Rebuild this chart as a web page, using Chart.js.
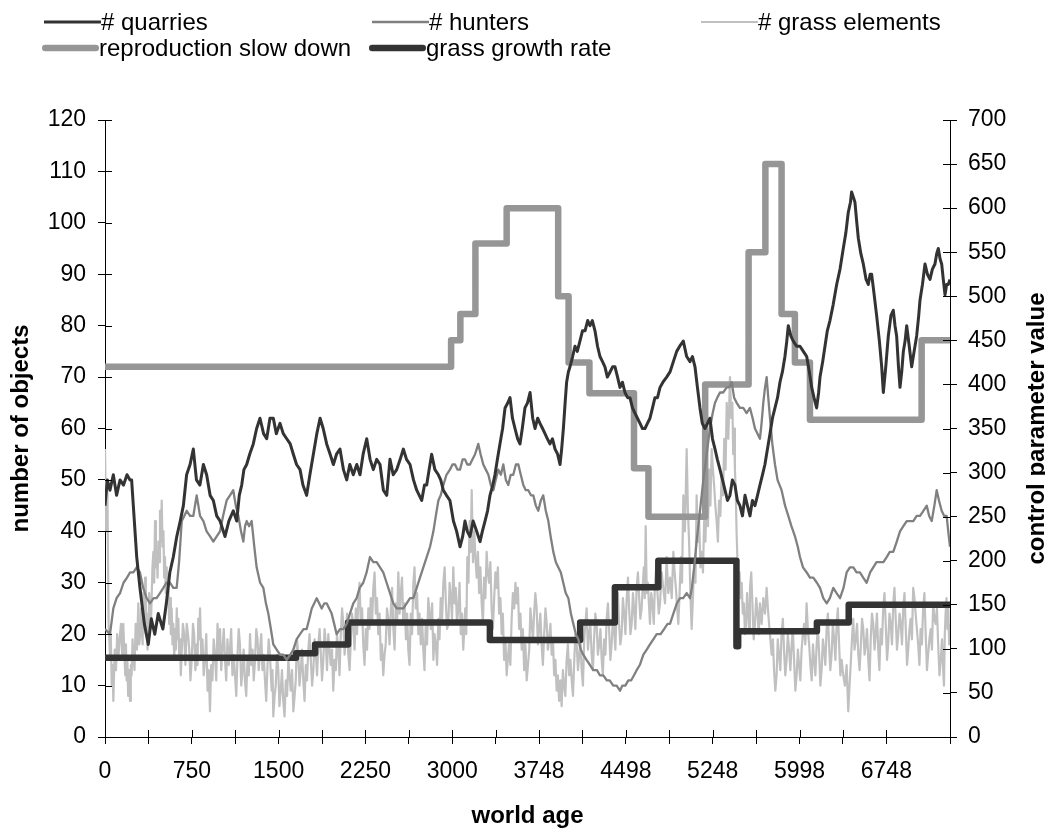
<!DOCTYPE html>
<html>
<head>
<meta charset="utf-8">
<script src="https://cdn.jsdelivr.net/npm/chart.js@4/dist/chart.umd.min.js"></script>
<style>
  html, body { margin: 0; padding: 0; background: #fff; }
  canvas { display: block; }
</style>
</head>
<body>
<canvas id="worldChart" width="1045" height="828"></canvas>
<script>
// --- Data (world age, value) ---
const xTickLabels = ['0', '750', '1500', '2250', '3000', '3748', '4498', '5248', '5998', '6748'];

const quarryPoints = [
  [0,45],[20,50],[43,48],[72,51],[100,47],[130,50],[160,49],[190,51],[216,50],[230,50],[274,35],[302,29],[340,22],[374,18],
  [400,23],[430,20],[460,24],[500,21],[530,26],[560,32],[590,35],[620,39],[650,42],[677,45],[705,51],[735,53],[763,56],
  [790,50],[820,49],[850,53],[878,51],[908,47],[936,46],[965,43],[994,42],[1037,39],[1070,42],[1108,44],[1138,42],[1160,47],
  [1181,49],[1200,52],[1224,53],[1250,55],[1281,57],[1310,60],[1339,62],[1370,59],[1397,58],[1425,62],[1454,62],[1480,59],
  [1512,61],[1540,59],[1570,58],[1600,57],[1627,55],[1655,53],[1685,52],[1710,49],[1742,47],[1770,51],[1800,55],[1830,59],
  [1858,62],[1885,60],[1915,57],[1945,55],[1973,53],[2000,55],[2030,56],[2060,52],[2088,50],[2115,53],[2145,51],[2175,53],
  [2203,51],[2230,55],[2261,58],[2290,54],[2318,52],[2347,54],[2376,53],[2405,48],[2434,47],[2462,54],[2490,51],[2520,52],
  [2550,54],[2577,56],[2605,54],[2635,53],[2665,50],[2693,48],[2715,47],[2736,46],[2760,49],[2779,49],[2800,52],[2822,55],
  [2850,52],[2880,51],[2900,50],[2923,48],[2950,47],[2980,46],[3010,42],[3038,40],[3067,37],[3090,39],[3110,42],[3130,40],
  [3153,39],[3180,42],[3211,40],[3240,38],[3260,40],[3283,42],[3305,44],[3326,47],[3350,49],[3369,51],[3390,54],[3412,57],
  [3435,60],[3456,64],[3480,65],[3499,66],[3520,62],[3542,60],[3565,58],[3585,57],[3605,60],[3628,64],[3650,65],[3672,67],
  [3695,62],[3715,60],[3738,62],[3758,61],[3780,60],[3801,59],[3822,58],[3844,57],[3866,58],[3888,56],[3910,55],[3931,53],
  [3945,56],[3960,60],[3975,65],[3988,69],[4003,71],[4017,72],[4040,74],[4060,76],[4080,75],[4103,77],[4125,79],[4147,79],
  [4170,81],[4190,80],[4210,81],[4233,79],[4255,76],[4276,74],[4298,73],[4319,72],[4340,70],[4363,71],[4385,72],[4406,72],
  [4428,70],[4449,68],[4470,69],[4492,67],[4515,66],[4535,66],[4557,64],[4578,63],[4600,62],[4622,61],[4643,60],[4665,60],
  [4686,61],[4708,62],[4730,64],[4751,66],[4773,66],[4795,68],[4820,69],[4852,70],[4881,71],[4910,73],[4939,75],[4965,76],
  [4996,77],[5025,74],[5054,73],[5075,74],[5097,72],[5118,68],[5140,64],[5160,61],[5183,60],[5205,61],[5226,62],[5248,58],
  [5270,56],[5290,54],[5313,52],[5335,50],[5356,48],[5378,46],[5399,47],[5420,50],[5442,49],[5463,46],[5485,45],[5507,43],
  [5529,47],[5550,45],[5572,43],[5593,46],[5615,45],[5637,47],[5658,49],[5680,51],[5701,53],[5723,56],[5745,59],[5766,62],
  [5788,64],[5810,66],[5831,69],[5852,71],[5874,74],[5890,77],[5903,80],[5925,78],[5946,77],[5975,76],[6004,76],[6033,75],
  [6062,74],[6085,71],[6105,68],[6125,66],[6148,64],[6165,67],[6177,70],[6200,73],[6220,76],[6240,79],[6263,81],[6290,84],
  [6321,88],[6350,91],[6378,95],[6400,98],[6421,102],[6440,104],[6450,106],[6465,105],[6479,104],[6495,100],[6508,97],
  [6530,94],[6551,92],[6575,89],[6594,88],[6610,90],[6623,90],[6645,86],[6666,82],[6690,77],[6710,72],[6724,67],[6745,72],
  [6767,78],[6790,82],[6810,83],[6825,80],[6839,78],[6855,72],[6868,68],[6883,71],[6897,75],[6912,77],[6926,80],[6948,76],
  [6969,72],[6990,75],[7012,78],[7030,82],[7041,85],[7062,88],[7084,92],[7105,90],[7127,89],[7148,91],[7170,92],[7185,94],
  [7199,95],[7214,93],[7228,92],[7242,89],[7257,86],[7271,88],[7285,88],[7300,89]
];

const hunterPoints = [
  [0,21],[43,20],[72,25],[100,27],[130,28],[160,30],[190,31],[216,32],[245,32],[274,33],[302,32],[330,29],[360,27],[389,26],
  [420,27],[446,27],[475,28],[504,29],[530,30],[562,30],[590,29],[619,29],[640,34],[663,42],[685,43],[706,44],[735,43],
  [763,43],[792,47],[821,43],[850,42],[878,40],[908,39],[936,38],[965,39],[994,40],[1020,43],[1051,46],[1080,47],[1108,48],
  [1130,45],[1152,43],[1175,40],[1195,38],[1210,41],[1224,42],[1245,41],[1267,42],[1290,37],[1310,33],[1340,30],[1368,29],
  [1390,26],[1411,24],[1433,21],[1454,18],[1483,17],[1512,16],[1540,16],[1570,15],[1600,16],[1627,17],[1655,19],[1685,20],
  [1715,21],[1742,21],[1765,23],[1786,25],[1808,26],[1829,27],[1850,26],[1872,25],[1895,26],[1915,26],[1937,25],[1958,24],
  [1980,22],[2001,20],[2030,21],[2059,21],[2088,22],[2116,24],[2145,26],[2174,27],[2200,29],[2231,30],[2260,32],[2289,35],
  [2318,34],[2347,34],[2376,33],[2404,32],[2433,30],[2462,28],[2491,26],[2520,25],[2549,25],[2578,25],[2606,26],[2635,27],
  [2664,27],[2693,29],[2721,31],[2750,33],[2779,35],[2808,37],[2837,40],[2858,43],[2880,46],[2900,47],[2923,49],[2950,51],
  [2980,52],[3002,53],[3024,53],[3045,52],[3067,52],[3090,54],[3110,54],[3130,53],[3153,53],[3175,54],[3197,55],[3211,56],
  [3225,57],[3245,55],[3268,53],[3290,52],[3312,51],[3333,49],[3355,48],[3375,50],[3398,52],[3420,51],[3441,53],[3463,50],
  [3484,49],[3505,51],[3527,51],[3550,53],[3571,53],[3592,51],[3614,49],[3635,48],[3657,48],[3680,47],[3700,47],[3722,45],
  [3743,44],[3765,46],[3786,47],[3808,44],[3830,42],[3850,39],[3873,36],[3895,34],[3916,33],[3938,32],[3959,30],[3980,28],
  [4003,27],[4025,24],[4046,22],[4068,20],[4089,19],[4110,17],[4132,16],[4160,15],[4190,14],[4218,13],[4250,13],[4275,12],
  [4305,12],[4335,11],[4360,11],[4391,10],[4420,10],[4449,9],[4470,10],[4495,10],[4521,11],[4545,11],[4570,12],[4593,13],
  [4620,14],[4651,16],[4680,17],[4708,18],[4737,19],[4766,20],[4800,20],[4830,21],[4860,22],[4881,22],[4910,24],[4940,26],
  [4968,27],[4995,27],[5025,28],[5054,27],[5070,29],[5090,33],[5111,38],[5140,44],[5169,50],[5198,55],[5226,60],[5250,63],
  [5270,65],[5290,66],[5313,67],[5340,67],[5371,68],[5393,68],[5414,69],[5435,66],[5457,65],[5485,64],[5514,64],[5543,63],
  [5572,64],[5595,62],[5615,60],[5637,59],[5658,58],[5672,61],[5687,65],[5702,68],[5716,70],[5730,66],[5745,62],[5765,57],
  [5788,53],[5810,50],[5845,48],[5875,45],[5903,43],[5930,41],[5961,39],[5985,37],[6004,35],[6030,33],[6062,32],[6090,31],
  [6119,31],[6150,30],[6177,29],[6205,27],[6235,26],[6262,27],[6292,29],[6320,28],[6350,27],[6380,29],[6407,32],[6435,33],
  [6465,33],[6493,32],[6522,32],[6550,31],[6580,30],[6610,32],[6637,33],[6665,34],[6695,34],[6725,34],[6753,35],[6780,36],
  [6810,36],[6840,38],[6868,40],[6897,41],[6926,42],[6955,42],[6983,42],[7012,43],[7041,43],[7070,44],[7099,45],[7120,43],
  [7142,42],[7165,45],[7185,48],[7205,46],[7228,44],[7250,43],[7271,43],[7285,40],[7300,37]
];

const grassPoints = [
  [0,56],[10,40],[20,50],[31,22],[43,16],[50,20],[58,10],[65,14],[72,7],[84,17],[95,13],[105,20],[115,15],[126,19],[138,22],
  [148,16],[158,22],[166,17],[175,12],[181,18],[187,11],[193,15],[200,8],[208,13],[216,7],[223,14],[230,12],[238,19],[245,16],
  [255,13],[265,22],[276,17],[288,26],[296,18],[305,20],[311,25],[317,22],[325,18],[332,28],[339,23],[346,31],[353,20],
  [360,24],[367,17],[374,20],[382,28],[390,24],[396,21],[403,27],[410,33],[418,36],[425,30],[432,42],[440,33],[447,36],
  [454,31],[461,38],[468,34],[475,44],[482,38],[490,46],[497,37],[505,40],[511,31],[518,35],[525,28],[533,33],[540,26],
  [547,30],[554,22],[562,27],[569,20],[576,25],[583,18],[590,22],[598,15],[605,21],[612,17],[620,25],[627,19],[634,23],
  [641,15],[648,19],[655,12],[662,16],[673,22],[684,20],[695,14],[706,22],[717,20],[728,17],[738,11],[749,15],[760,22],
  [770,20],[781,13],[792,18],[799,14],[806,23],[813,19],[821,25],[831,16],[842,19],[853,12],[864,15],[875,20],[886,9],
  [896,13],[907,5],[917,14],[928,11],[939,19],[950,16],[961,11],[972,22],[983,16],[994,21],[1004,13],[1015,17],[1026,21],
  [1037,15],[1047,11],[1058,19],[1069,14],[1080,17],[1090,21],[1101,12],[1112,16],[1123,12],[1134,8],[1145,16],[1155,21],
  [1166,18],[1177,10],[1188,13],[1198,17],[1209,11],[1220,8],[1231,15],[1242,12],[1253,20],[1264,14],[1275,17],[1285,11],
  [1296,15],[1307,21],[1318,19],[1328,13],[1339,17],[1350,20],[1360,13],[1371,16],[1382,11],[1393,7],[1404,14],[1414,19],
  [1425,16],[1433,12],[1440,9],[1447,13],[1454,4],[1465,8],[1475,10],[1486,16],[1497,13],[1507,6],[1518,9],[1529,13],
  [1540,7],[1551,4],[1562,11],[1573,8],[1584,15],[1594,12],[1605,9],[1616,13],[1627,5],[1638,8],[1648,11],[1659,19],
  [1670,16],[1680,10],[1691,13],[1702,17],[1713,11],[1724,7],[1735,14],[1745,11],[1756,17],[1767,20],[1778,15],[1789,10],
  [1800,13],[1811,19],[1822,16],[1832,12],[1843,18],[1854,21],[1865,16],[1875,11],[1886,15],[1897,21],[1908,18],[1918,13],
  [1929,20],[1940,17],[1950,14],[1961,17],[1972,9],[1983,15],[1994,13],[2004,20],[2015,17],[2026,12],[2037,20],[2048,25],
  [2059,22],[2070,16],[2080,19],[2091,24],[2102,16],[2113,13],[2124,19],[2134,24],[2145,22],[2156,17],[2167,25],[2177,20],
  [2188,26],[2199,30],[2210,22],[2221,25],[2231,18],[2242,14],[2253,21],[2264,17],[2275,25],[2285,21],[2296,27],[2307,22],
  [2318,29],[2329,32],[2340,24],[2350,27],[2361,20],[2372,24],[2383,15],[2393,18],[2404,12],[2415,16],[2425,18],[2436,25],
  [2447,23],[2458,18],[2470,25],[2480,29],[2491,21],[2502,17],[2512,26],[2523,22],[2534,32],[2545,24],[2555,28],[2566,31],
  [2577,22],[2588,26],[2600,19],[2610,24],[2620,17],[2631,14],[2642,24],[2653,20],[2664,30],[2674,33],[2685,25],[2696,28],
  [2707,20],[2717,24],[2728,18],[2739,23],[2750,17],[2760,13],[2771,22],[2782,18],[2793,27],[2804,24],[2815,21],[2826,26],
  [2837,15],[2847,20],[2858,18],[2869,14],[2880,23],[2890,19],[2900,27],[2912,23],[2923,30],[2934,33],[2945,26],[2955,21],
  [2966,22],[2977,30],[2988,27],[2998,23],[3009,33],[3020,26],[3030,29],[3041,22],[3052,25],[3063,30],[3074,20],[3084,24],
  [3095,17],[3104,21],[3112,25],[3121,20],[3130,35],[3140,30],[3150,42],[3159,36],[3168,48],[3179,34],[3190,40],[3200,35],
  [3211,31],[3222,36],[3232,28],[3243,33],[3254,26],[3265,22],[3275,31],[3286,27],[3297,36],[3307,32],[3318,30],[3329,34],
  [3340,25],[3351,21],[3362,27],[3373,32],[3384,29],[3394,33],[3405,24],[3416,27],[3427,20],[3437,24],[3448,15],[3459,19],
  [3470,12],[3480,15],[3490,18],[3502,14],[3513,23],[3524,28],[3535,25],[3546,30],[3557,26],[3567,29],[3578,21],[3589,24],
  [3600,17],[3610,21],[3621,13],[3632,18],[3643,11],[3654,14],[3665,17],[3675,25],[3686,22],[3697,19],[3707,24],[3718,28],
  [3729,25],[3740,18],[3750,21],[3761,24],[3772,18],[3783,14],[3794,20],[3805,25],[3816,22],[3826,17],[3837,19],[3848,22],
  [3859,16],[3870,19],[3880,12],[3891,15],[3902,9],[3912,12],[3923,7],[3934,11],[3945,6],[3956,13],[3966,10],[3977,8],
  [3988,15],[3999,18],[4010,12],[4021,15],[4032,11],[4043,8],[4054,15],[4064,20],[4075,18],[4086,13],[4097,16],[4107,19],
  [4118,13],[4129,10],[4140,19],[4150,22],[4161,25],[4172,17],[4182,20],[4193,22],[4204,16],[4215,13],[4225,19],[4236,24],
  [4247,22],[4258,16],[4269,18],[4280,21],[4291,15],[4301,12],[4312,19],[4323,16],[4334,23],[4345,26],[4355,21],[4366,15],
  [4377,18],[4388,23],[4398,21],[4409,17],[4420,25],[4431,28],[4441,22],[4452,18],[4463,20],[4474,27],[4485,24],[4496,20],
  [4507,27],[4518,31],[4528,25],[4539,20],[4550,22],[4561,28],[4571,25],[4582,21],[4593,29],[4604,32],[4615,27],[4625,23],
  [4636,25],[4645,29],[4655,33],[4663,27],[4671,41],[4680,28],[4690,30],[4699,26],[4708,22],[4719,28],[4730,26],[4741,22],
  [4751,30],[4762,33],[4773,28],[4784,24],[4795,26],[4809,32],[4823,29],[4838,26],[4852,35],[4866,28],[4881,31],[4896,27],
  [4910,36],[4921,32],[4932,29],[4943,25],[4953,22],[4964,28],[4975,35],[4985,30],[4996,47],[5010,40],[5025,56],[5036,44],
  [5046,38],[5057,28],[5068,21],[5079,27],[5090,34],[5101,30],[5111,47],[5122,38],[5133,42],[5144,33],[5155,36],[5166,32],
  [5176,42],[5187,38],[5198,48],[5209,41],[5220,52],[5230,45],[5241,56],[5252,52],[5262,49],[5273,45],[5284,42],[5295,38],
  [5305,46],[5316,43],[5327,51],[5339,47],[5350,58],[5361,52],[5371,65],[5385,58],[5399,70],[5410,62],[5420,65],[5427,55],
  [5434,60],[5442,52],[5449,48],[5456,40],[5463,35],[5473,28],[5482,32],[5491,27],[5500,30],[5510,24],[5519,26],[5529,20],
  [5538,22],[5547,28],[5555,25],[5564,21],[5572,29],[5583,32],[5593,26],[5604,19],[5615,22],[5626,27],[5637,24],[5648,20],
  [5658,26],[5673,22],[5687,27],[5702,24],[5716,29],[5727,25],[5737,22],[5748,19],[5759,16],[5770,19],[5780,13],[5791,9],
  [5802,12],[5812,19],[5823,16],[5834,13],[5845,20],[5856,23],[5866,17],[5877,12],[5888,15],[5899,20],[5910,17],[5921,13],
  [5932,18],[5942,21],[5953,15],[5964,9],[5975,12],[5986,17],[5996,14],[6007,11],[6018,17],[6029,20],[6040,22],[6050,18],
  [6061,26],[6072,21],[6083,18],[6094,14],[6105,11],[6116,18],[6126,15],[6137,12],[6148,18],[6159,21],[6170,16],[6180,10],
  [6191,13],[6202,19],[6212,17],[6223,14],[6234,21],[6245,24],[6255,18],[6266,13],[6277,16],[6288,22],[6299,19],[6310,15],
  [6321,22],[6331,25],[6342,18],[6353,12],[6364,15],[6378,12],[6392,10],[6407,14],[6421,5],[6432,10],[6442,14],[6453,19],
  [6464,23],[6475,17],[6486,19],[6497,22],[6508,16],[6519,13],[6530,18],[6540,23],[6551,21],[6562,16],[6572,18],[6583,21],
  [6594,15],[6605,11],[6615,19],[6626,24],[6637,22],[6648,17],[6658,20],[6669,24],[6680,17],[6690,13],[6701,21],[6712,18],
  [6723,25],[6734,28],[6745,22],[6756,15],[6766,18],[6777,24],[6788,22],[6799,18],[6810,26],[6820,29],[6831,23],[6842,17],
  [6853,20],[6864,24],[6875,22],[6885,18],[6896,25],[6907,28],[6918,21],[6929,14],[6939,17],[6950,21],[6960,23],[6971,19],
  [6982,29],[6993,27],[7003,24],[7014,21],[7025,18],[7036,14],[7046,21],[7057,18],[7068,25],[7079,28],[7090,20],[7101,13],
  [7111,16],[7122,19],[7133,21],[7144,17],[7155,26],[7165,23],[7176,22],[7187,25],[7198,18],[7209,12],[7220,15],[7231,19],
  [7241,13],[7248,10],[7255,20],[7262,24],[7270,27],[7278,21],[7285,25],[7293,18],[7300,22]
];

// control parameters (right axis), each pair = [age where the value starts, value]
const reproductionSteps = [
  [0,420],[2990,450],[3070,480],[3200,560],[3470,600],[3915,500],[4005,425],[4185,390],[4570,305],[4695,250],
  [5185,400],[5560,550],[5705,650],[5845,480],[5960,425],[6090,360],[7055,450],[7300,450]
];
const growthSteps = [
  [0,90],[1650,95],[1815,105],[2100,130],[3325,110],[4105,130],[4405,170],[4780,200],[5455,103],[5470,120],
  [6150,130],[6425,150],[7300,150]
];

const toXY = pts => pts.map(p => ({ x: p[0], y: p[1] }));

// --- Layout constants ---
const FONT = '"Liberation Sans", Arial, Helvetica, sans-serif';
const legendSpots = [[44, 22], [372, 22], [701, 22], [42, 48], [369, 48]];
const SAMPLE_LEN = 57;
const TICK_IN = 7;

Chart.defaults.font.family = FONT;
Chart.defaults.color = '#000';

// inner half of the crossing tick marks, axis titles and the legend
const decorPlugin = {
  id: 'decor',
  afterDraw(chart) {
    const ctx = chart.ctx;
    const { left, right, top, bottom } = chart.chartArea;
    const xs = chart.scales.x, ys = chart.scales.y, ys1 = chart.scales.y1;

    ctx.save();
    ctx.strokeStyle = '#000';
    ctx.lineWidth = 1;
    ctx.beginPath();
    xs.ticks.forEach(t => {
      const px = Math.round(xs.getPixelForValue(t.value)) + 0.5;
      ctx.moveTo(px, bottom); ctx.lineTo(px, bottom - TICK_IN);
    });
    ys.ticks.forEach(t => {
      const py = Math.round(ys.getPixelForValue(t.value)) + 0.5;
      ctx.moveTo(left, py); ctx.lineTo(left + TICK_IN, py);
    });
    ys1.ticks.forEach(t => {
      const py = Math.round(ys1.getPixelForValue(t.value)) + 0.5;
      ctx.moveTo(right, py); ctx.lineTo(right - TICK_IN, py);
    });
    ctx.stroke();

    // axis titles
    ctx.fillStyle = '#000';
    ctx.font = 'bold 24px ' + FONT;
    ctx.textAlign = 'center';
    ctx.textBaseline = 'alphabetic';
    ctx.fillText('world age', (left + right) / 2, 823);
    const midY = (top + bottom) / 2;
    ctx.save();
    ctx.translate(28, midY);
    ctx.rotate(-Math.PI / 2);
    ctx.fillText('number of objects', 0, 0);
    ctx.restore();
    ctx.save();
    ctx.translate(1044, midY);
    ctx.rotate(-Math.PI / 2);
    ctx.fillText('control parameter value', 0, 0);
    ctx.restore();

    // legend
    ctx.font = '24px ' + FONT;
    ctx.textAlign = 'left';
    ctx.textBaseline = 'middle';
    chart.data.datasets.forEach((ds, i) => {
      const [lx, ly] = legendSpots[i];
      const thick = ds.borderWidth > 4;
      ctx.beginPath();
      ctx.strokeStyle = ds.borderColor;
      ctx.lineWidth = ds.borderWidth;
      ctx.lineCap = thick ? 'round' : 'butt';
      const pad = thick ? ds.borderWidth / 2 : 0;
      ctx.moveTo(lx + pad, ly);
      ctx.lineTo(lx + SAMPLE_LEN - pad, ly);
      ctx.stroke();
      ctx.fillText(ds.label, lx + SAMPLE_LEN, ly + 1);
    });
    ctx.restore();
  }
};

const lineDefaults = { pointRadius: 0, pointHoverRadius: 0, tension: 0, fill: false, borderJoinStyle: 'round' };

const chart = new Chart(document.getElementById('worldChart'), {
  type: 'line',
  data: {
    datasets: [
      { ...lineDefaults, label: '# quarries', data: toXY(quarryPoints), yAxisID: 'y',
        borderColor: '#333333', borderWidth: 3, order: 1 },
      { ...lineDefaults, label: '# hunters', data: toXY(hunterPoints), yAxisID: 'y',
        borderColor: '#808080', borderWidth: 2.3, order: 2 },
      { ...lineDefaults, label: '# grass elements', data: toXY(grassPoints), yAxisID: 'y',
        borderColor: '#c0c0c0', borderWidth: 2.2, order: 5 },
      { ...lineDefaults, label: 'reproduction slow down', data: toXY(reproductionSteps), yAxisID: 'y1',
        borderColor: '#969696', borderWidth: 6.5, stepped: true, order: 4 },
      { ...lineDefaults, label: 'grass growth rate', data: toXY(growthSteps), yAxisID: 'y1',
        borderColor: '#333333', borderWidth: 6.5, stepped: true, order: 3, borderCapStyle: 'round' }
    ]
  },
  options: {
    responsive: false,
    animation: false,
    events: [],
    layout: { padding: { top: 120, left: 0, right: 0, bottom: 0 } },
    plugins: { legend: { display: false }, tooltip: { enabled: false }, title: { display: false } },
    scales: {
      x: {
        type: 'linear',
        min: 0, max: 7300,
        border: { color: '#000', width: 1 },
        grid: { drawOnChartArea: false, drawTicks: true, tickLength: 7, tickColor: '#000', lineWidth: 1 },
        ticks: {
          stepSize: 375, maxTicksLimit: 100, autoSkip: false, maxRotation: 0, minRotation: 0,
          padding: 14, font: { size: 23 },
          callback: v => (v % 750 === 0 && xTickLabels[v / 750] !== undefined) ? xTickLabels[v / 750] : ''
        },
        afterFit: s => { s.height = 91; }
      },
      y: {
        position: 'left',
        min: 0, max: 120,
        border: { color: '#000', width: 1 },
        grid: { drawOnChartArea: false, drawTicks: true, tickLength: 7, tickColor: '#000', lineWidth: 1 },
        ticks: { stepSize: 10, padding: 12, font: { size: 23 } },
        afterFit: s => { s.width = 105; }
      },
      y1: {
        position: 'right',
        min: 0, max: 700,
        border: { color: '#000', width: 1 },
        grid: { drawOnChartArea: false, drawTicks: true, tickLength: 7, tickColor: '#000', lineWidth: 1 },
        ticks: { stepSize: 50, padding: 11, font: { size: 23 } },
        afterFit: s => { s.width = 95; }
      }
    }
  },
  plugins: [decorPlugin]
});
</script>
</body>
</html>
